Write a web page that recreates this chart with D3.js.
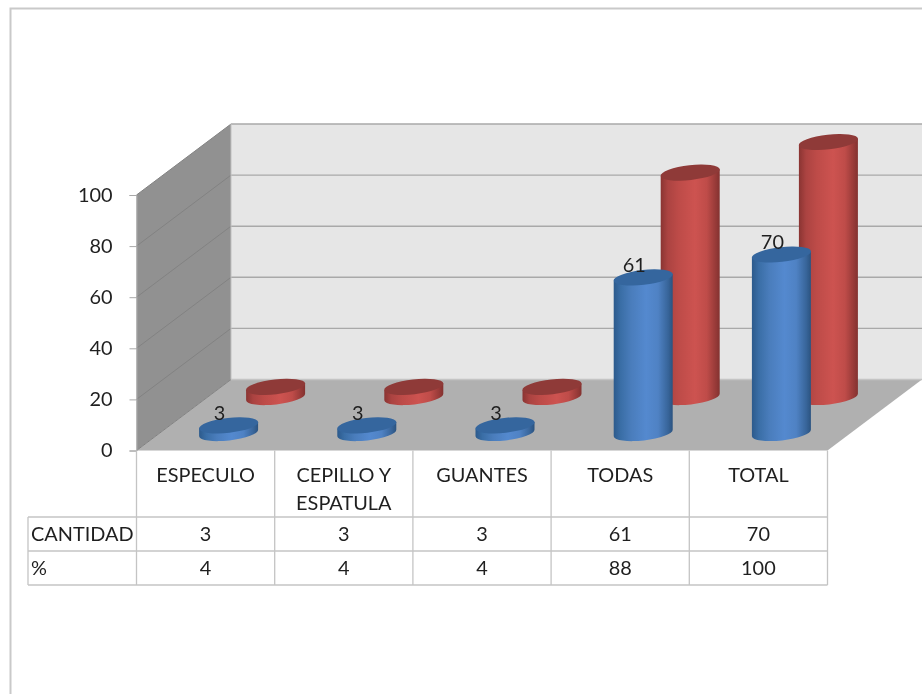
<!DOCTYPE html>
<html><head><meta charset="utf-8">
<style>html,body{margin:0;padding:0;background:#fff}svg{display:block;filter:blur(.55px)}text{font-family:Lato,"Open Sans",sans-serif;fill:#1f1f1f;font-size:19.9px}</style>
<script src="https://cdn.jsdelivr.net/npm/d3@7/dist/d3.min.js"></script></head>
<body><script>
const categoryLines=[["ESPECULO"],["CEPILLO Y","ESPATULA"],["GUANTES"],["TODAS"],["TOTAL"]];
const cantidad=[3,3,3,61,70];
const porcentaje=[4,4,4,88,100];
const yTicks=[0,20,40,60,80,100];
const rowNames=["CANTIDAD","%"];

const W=922,H=694;
const svg=d3.select("body").append("svg").attr("width",W).attr("height",H);
const defs=svg.append("defs");
function grad(id,stops){
  const g=defs.append("linearGradient").attr("id",id);
  stops.forEach(([o,c])=>g.append("stop").attr("offset",o).attr("stop-color",c));
}
grad("blue",[[0,"#2c5a8c"],[.12,"#3a6ea6"],[.3,"#4a7dbc"],[.55,"#5489cf"],[.75,"#4f82c4"],[.92,"#38659a"],[1,"#2b5380"]]);
grad("red",[[0,"#8a3432"],[.12,"#ab4341"],[.3,"#bd4b48"],[.58,"#cd5350"],[.78,"#bf4c49"],[.93,"#973a38"],[1,"#833230"]]);

// frame
svg.append("path").attr("d","M10.5,694V8.5H922").attr("fill","none").attr("stroke","#c9c9c9").attr("stroke-width",2);

// projection geometry
const X0=136.5,X1=827.5,Yf=450.5,Yt=195,dx=94.5,dy=-71;
const yWall=d3.scaleLinear().domain([0,100]).range([Yf,Yt]);
const h=d3.scaleLinear().domain([0,100]).range([0,255]);
const x=d3.scaleBand().domain(d3.range(categoryLines.length)).range([X0,X1]);

const P=a=>a.map(p=>p.join(",")).join(" ");
svg.append("polygon").attr("points",P([[X0+dx,Yt+dy],[W,Yt+dy],[W,Yf+dy],[X0+dx,Yf+dy]])).attr("fill","#e6e6e6");
svg.append("polygon").attr("points",P([[X0,Yt],[X0+dx,Yt+dy],[X0+dx,Yf+dy],[X0,Yf]])).attr("fill","#919191");
svg.append("polygon").attr("points",P([[X0,Yf],[X0+dx,Yf+dy],[W,Yf+dy],[X1,Yf]])).attr("fill","#b0b0b0");

yTicks.forEach(t=>{
  const y=yWall(t);
  const s=t===0?"#c4c4c4":"#a9a9a9";
  svg.append("line").attr("x1",X0).attr("y1",y).attr("x2",X0+dx).attr("y2",y+dy).attr("stroke","#828282").attr("stroke-width",1);
  svg.append("line").attr("x1",X0+dx).attr("y1",y+dy).attr("x2",W).attr("y2",y+dy).attr("stroke",s).attr("stroke-width",1.4);
});
svg.append("line").attr("x1",X0+dx).attr("y1",Yt+dy).attr("x2",X0+dx).attr("y2",Yf+dy).attr("stroke","#c0c0c0");

// y axis
const ax=svg.append("g").attr("transform",`translate(${X0},0)`).call(d3.axisLeft(yWall).tickValues(yTicks).tickSize(7).tickPadding(17));
ax.select(".domain").attr("stroke","#a8a8a8");
ax.selectAll(".tick line").attr("stroke","#a8a8a8");
ax.selectAll("text").style("font-family","Lato").style("font-size","19.9px").attr("fill","#1f1f1f");

// cylinders
const rx=29.5,ry=7.4,tilt=-6.5,tan=Math.tan(tilt*Math.PI/180);
function cyl(g,cx,base,height,col,top){
  const ty=base-height;
  const sk=rx*tan;
  g.append("path")
   .attr("d",`M${cx-rx},${ty-sk}L${cx-rx},${base-sk}`+
     `A${rx} ${ry} ${tilt} 0 0 ${cx+rx},${base+sk}`+
     `L${cx+rx},${ty+sk}Z`)
   .attr("fill",`url(#${col})`);
  g.append("ellipse").attr("cx",cx).attr("cy",ty).attr("rx",rx+.3).attr("ry",ry)
   .attr("transform",`rotate(${tilt} ${cx} ${ty})`).attr("fill",top);
}
const band=x.bandwidth();
const gRed=svg.append("g"),gBlue=svg.append("g");
porcentaje.forEach((v,i)=>cyl(gRed,x(i)+band*.5+70,397,h(v),"red","#8f3a38"));
cantidad.forEach((v,i)=>cyl(gBlue,x(i)+band*.5+23,433,h(v),"blue","#35669e"));
svg.append("g").selectAll("text").data(cantidad).join("text")
  .attr("x",(d,i)=>x(i)+band*.5+14).attr("y",d=>433-h(d)-12.5).attr("dy",".35em")
  .attr("text-anchor","middle").text(d=>d);

// data table
const rows=[Yf,517,551,585], left=28;
const T=svg.append("g").attr("stroke","#c4c4c4").attr("stroke-width",1.3);
d3.range(categoryLines.length+1).forEach(i=>{
  const xx=x(i)===undefined?X1:x(i);
  T.append("line").attr("x1",xx).attr("x2",xx).attr("y1",Yf).attr("y2",585);
});
T.append("line").attr("x1",left).attr("x2",left).attr("y1",517).attr("y2",585);
rows.slice(1).forEach(y=>T.append("line").attr("x1",left).attr("x2",X1).attr("y1",y).attr("y2",y));

categoryLines.forEach((ls,i)=>ls.forEach((s,j)=>{
  svg.append("text").attr("x",x(i)+band/2).attr("y",475+j*28.5).attr("dy",".35em").attr("text-anchor","middle").text(s);
}));
[cantidad,porcentaje].forEach((arr,r)=>{
  svg.append("text").attr("x",31).attr("y",rows[r+1]+17).attr("dy",".35em").text(rowNames[r]);
  arr.forEach((v,i)=>svg.append("text").attr("x",x(i)+band/2).attr("y",rows[r+1]+17.5).attr("dy",".35em").attr("text-anchor","middle").text(v));
});
</script></body></html>
